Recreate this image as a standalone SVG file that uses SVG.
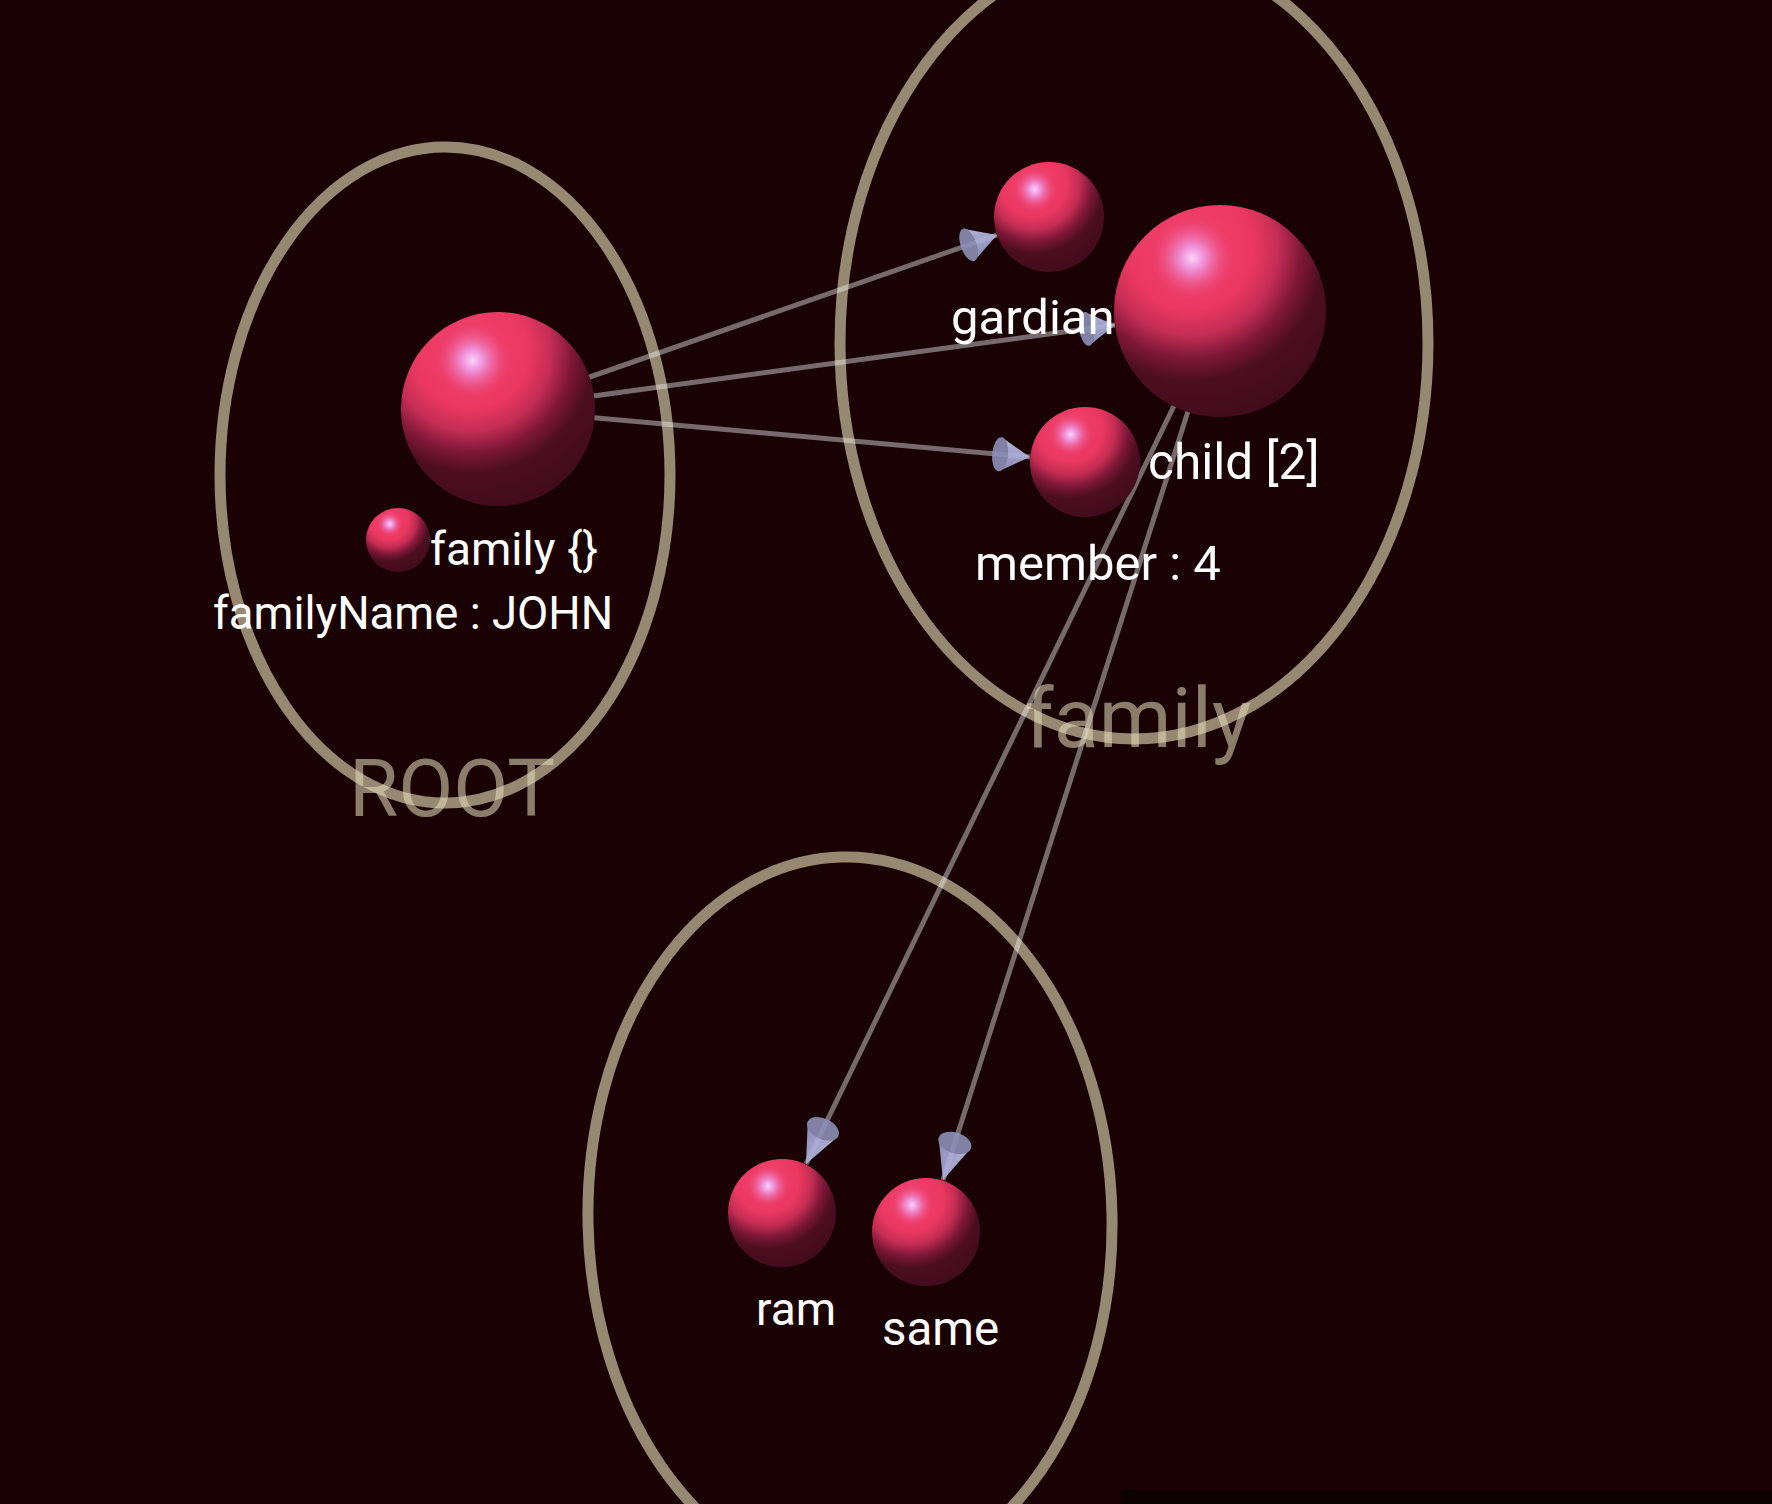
<svg xmlns="http://www.w3.org/2000/svg" xmlns:xlink="http://www.w3.org/1999/xlink" width="1772" height="1504" viewBox="0 0 1772 1504">
  <defs>
    <radialGradient id="diffuse" cx="0.36" cy="0.2" r="0.9" fx="0.36" fy="0.2">
      <stop offset="0" stop-color="#f0426e"/>
      <stop offset="0.33" stop-color="#ea3862"/>
      <stop offset="0.46" stop-color="#c42d54"/>
      <stop offset="0.58" stop-color="#7e1837"/>
      <stop offset="0.7" stop-color="#4c0e21"/>
      <stop offset="1" stop-color="#3e0b1a"/>
    </radialGradient>
    <radialGradient id="spec" cx="0.37" cy="0.25" r="0.2" fx="0.37" fy="0.25">
      <stop offset="0" stop-color="#fcd4ff" stop-opacity="1"/>
      <stop offset="0.3" stop-color="#eea0ec" stop-opacity="0.8"/>
      <stop offset="1" stop-color="#ee4070" stop-opacity="0"/>
    </radialGradient>
    <linearGradient id="coneFill" x1="0" y1="0" x2="0" y2="1">
      <stop offset="0" stop-color="#c4c8f0"/>
      <stop offset="0.5" stop-color="#aeb1de"/>
      <stop offset="1" stop-color="#9799c8"/>
    </linearGradient>
    <g id="ball">
      <circle cx="0" cy="0" r="1" fill="url(#diffuse)"/>
      <circle cx="0" cy="0" r="1" fill="url(#spec)"/>
    </g>
    <g id="cone" opacity="0.9">
      <polygon points="0,0 -30,-17 -30,17" fill="url(#coneFill)"/>
      <ellipse cx="-30" cy="0" rx="8" ry="17" fill="#8d8fb8"/>
    </g>
    <style>
      .ring { fill: none; stroke: #978872; stroke-width: 11; }
      .group-label { font-family: Roboto, "Liberation Sans", sans-serif; fill: #e3dab9; fill-opacity: 0.57; text-anchor: middle; }
      .label { font-family: Roboto, "Liberation Sans", sans-serif; fill: #ffffff; }
      .edge { stroke: #f0eeec; stroke-opacity: 0.44; stroke-width: 5; fill: none; }
    </style>
  </defs>

  <rect x="0" y="0" width="1772" height="1504" fill="#1a0204"/>
  <rect x="1121" y="1490" width="651" height="14" fill="#0d0001"/>

  <g id="group-root">
    <ellipse class="ring" cx="445" cy="475" rx="225" ry="328"/>
  </g>
  <g id="group-family">
    <ellipse class="ring" cx="1134" cy="343" rx="294" ry="396"/>
  </g>
  <g id="group-child">
    <ellipse class="ring" cx="850" cy="1219" rx="262" ry="362" transform="rotate(-1.3 850 1219)"/>
  </g>

  <g id="connectors">
    <line class="edge" x1="498" y1="409" x2="997" y2="235"/>
    <line class="edge" x1="498" y1="409" x2="1115" y2="325"/>
    <line class="edge" x1="498" y1="409" x2="1030" y2="457"/>
    <line class="edge" x1="1220" y1="311" x2="806" y2="1164"/>
    <line class="edge" x1="1220" y1="311" x2="943" y2="1180"/>
  </g>

  <g id="node-root">
    <use xlink:href="#ball" href="#ball" transform="translate(498,409) scale(97)"/>
  </g>
  <g id="node-family-obj">
    <use xlink:href="#ball" href="#ball" transform="translate(398,540) scale(32)"/>
    <text class="label" x="430" y="565" style="font-size:46px">family {}</text>
    <text class="label" x="213" y="629" style="font-size:45.5px">familyName : JOHN</text>
  </g>
  <g id="node-gardian">
    <use xlink:href="#ball" href="#ball" transform="translate(1049,217) scale(55)"/>
  </g>
  <g id="node-family">
    <use xlink:href="#ball" href="#ball" transform="translate(1220,311) scale(106)"/>
  </g>
  <g id="node-child">
    <use xlink:href="#ball" href="#ball" transform="translate(1085,462) scale(55)"/>
  </g>
  <g id="node-ram">
    <use xlink:href="#ball" href="#ball" transform="translate(782,1213) scale(54)"/>
    <text class="label" x="756" y="1325" style="font-size:46px">ram</text>
  </g>
  <g id="node-same">
    <use xlink:href="#ball" href="#ball" transform="translate(926,1232) scale(54)"/>
    <text class="label" x="882" y="1345" style="font-size:47.5px">same</text>
  </g>

  <g id="arrowheads">
    <use xlink:href="#cone" href="#cone" transform="translate(997,235) rotate(-19.2)"/>
    <use xlink:href="#cone" href="#cone" transform="translate(1115,325) rotate(-7.7) scale(0.95,1)"/>
    <use xlink:href="#cone" href="#cone" transform="translate(1030,457) rotate(5.2)"/>
    <use xlink:href="#cone" href="#cone" transform="translate(806,1164) rotate(115.9) scale(1.3,1)"/>
    <use xlink:href="#cone" href="#cone" transform="translate(943,1180) rotate(107.7) scale(1.3,1)"/>
  </g>

  <g id="labels">
    <text class="label" x="951" y="334" style="font-size:49px">gardian</text>
    <text class="label" x="1148" y="479" style="font-size:49.5px">child [2]</text>
    <text class="label" x="975" y="580" style="font-size:49px">member : 4</text>
    <text class="group-label" x="452" y="816" font-size="80">ROOT</text>
    <text class="group-label" x="1138" y="747" font-size="83">family</text>
  </g>
</svg>
